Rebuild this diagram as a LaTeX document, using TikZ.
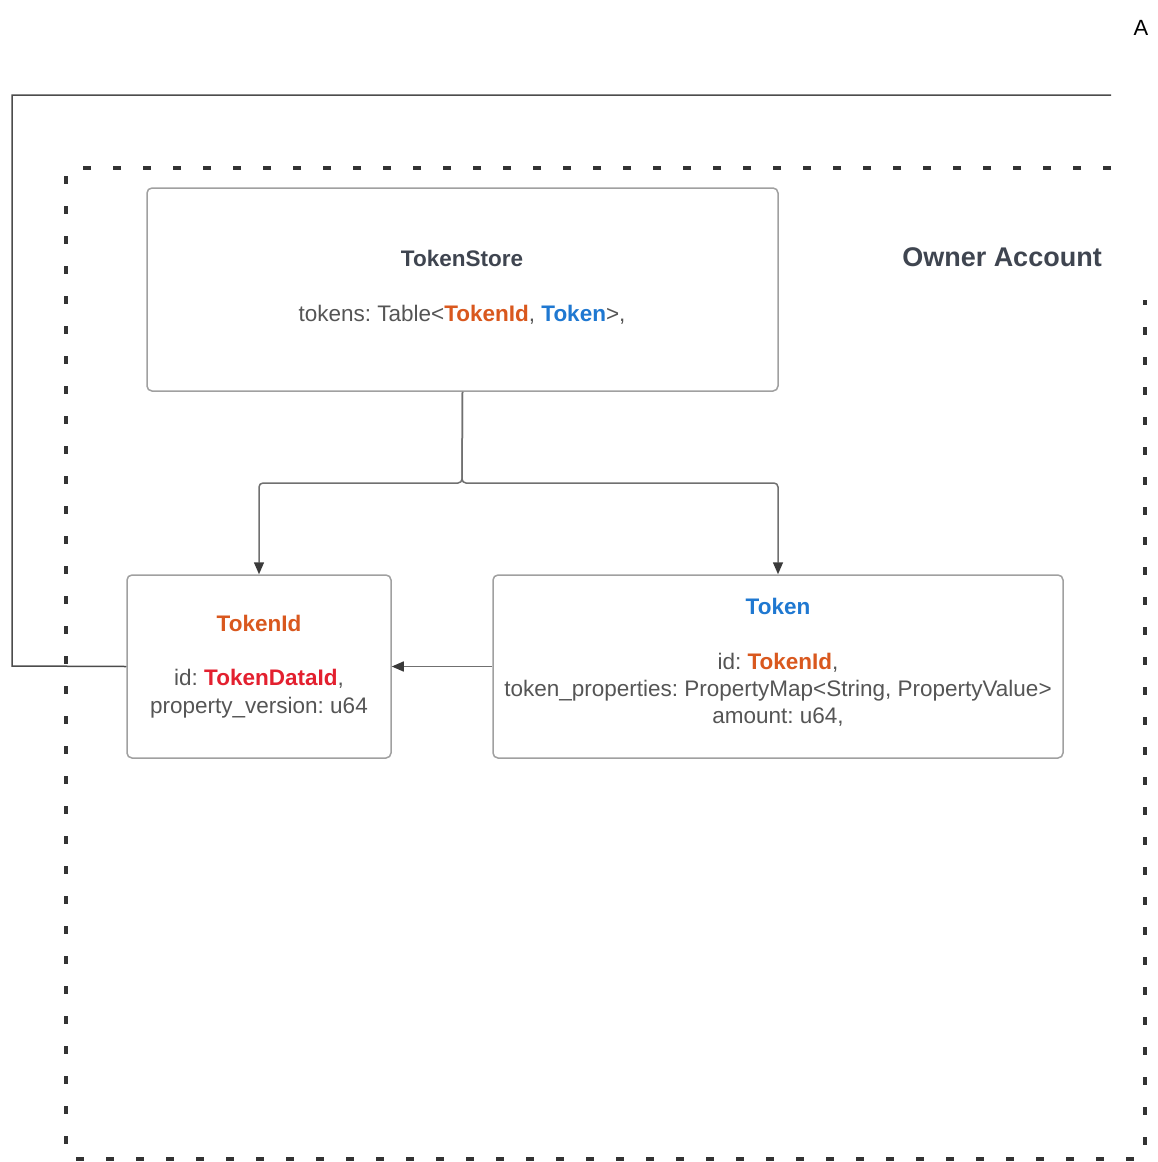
\documentclass[tikz,border=0pt]{standalone}
\usepackage{fontspec}
\setmainfont{Liberation Sans}
\usetikzlibrary{arrows.meta}
\frenchspacing
\definecolor{ink}{HTML}{555555}
\definecolor{head}{HTML}{3F4550}
\definecolor{idorange}{HTML}{D9581E}
\definecolor{idred}{HTML}{E3202F}
\definecolor{tokblue}{HTML}{1F78D1}
\definecolor{boxline}{HTML}{A0A0A0}
\definecolor{wireline}{HTML}{707070}
\definecolor{tipfill}{HTML}{3A3A3A}
\definecolor{dashline}{HTML}{333333}
\tikzset{
  classbox/.style={draw=boxline, line width=1.5pt, rounded corners=5pt, fill=white, inner sep=0pt},
  wire/.style={draw=wireline, line width=1.5pt},
  arrowwire/.style={wire, rounded corners=4pt, -{Triangle[length=12pt,width=10pt,color=tipfill]}},
  border/.style={draw=dashline, line width=4pt, dash pattern=on 8pt off 22pt, rounded corners=7pt},
  txt/.style={anchor=base, inner sep=0pt, text=ink, font=\fontsize{22.5pt}{26pt}\selectfont},
  ttl/.style={txt, font=\fontsize{22.5pt}{26pt}\selectfont\bfseries}
}
\newcommand{\kw}[2]{\textcolor{#1}{\bfseries #2}}
\begin{document}
\begin{tikzpicture}[x=1pt,y=-1pt]
\useasboundingbox (0,0) rectangle (1158,1162);

% corner letter
\node[anchor=base, inner sep=0pt, font=\fontsize{22pt}{26pt}\selectfont] (letter) at (1141,35) {A};

% dashed owner boundary and its label
\draw[border] (1111,168) -- (66,168) -- (66,1159) -- (1145,1159) -- (1145,300);
\node[ttl, text=head, font=\fontsize{27pt}{31pt}\selectfont\bfseries] (owner) at (1002,266) {Owner Account};

% class boxes
\node[classbox, minimum width=631pt, minimum height=203pt] (store) at (462.5,289.5) {};
\node[classbox, minimum width=264pt, minimum height=183pt] (tid) at (259,666.5) {};
\node[classbox, minimum width=570pt, minimum height=183pt] (tok) at (778,666.5) {};

% TokenStore contents
\node[ttl, text=head] (storeT) at (462,266) {TokenStore};
\node[txt] (storeA) at (462,321) {tokens: Table<\kw{idorange}{TokenId}, \kw{tokblue}{Token}>,};

% TokenId contents
\node[ttl, text=idorange] (tidT) at (259,631) {TokenId};
\node[txt] (tidA) at (259,685) {id: \kw{idred}{TokenDataId},};
\node[txt] (tidB) at (259,713) {property\_version: u64};

% Token contents
\node[ttl, text=tokblue] (tokT) at (778,614) {Token};
\node[txt] (tokA) at (778,669) {id: \kw{idorange}{TokenId},};
\node[txt] (tokB) at (778,696) {token\_properties: PropertyMap<String, PropertyValue>};
\node[txt] (tokC) at (778,723) {amount: u64,};

% connectors
\coordinate (split) at (462,483);
\draw[arrowwire] (store.south) -- (split) -| (tid.north);
\draw[arrowwire] (store.south) -- (split) -| (tok.north);
\draw[arrowwire] (tok.west) -- (tid.east);

% outer link from TokenId back up around the boundary
\coordinate (loopA) at (12,666);
\coordinate (loopB) at (12,95);
\coordinate (loopC) at (1111,95);
\draw[wire, draw=black!70] (tid.west) -- (loopA) -- (loopB) -- (loopC);
\end{tikzpicture}
\end{document}
